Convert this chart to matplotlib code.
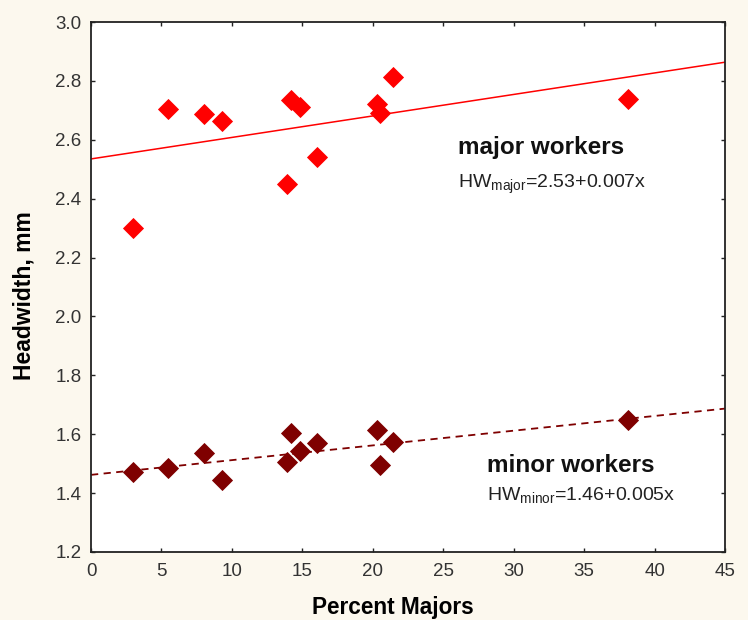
import numpy as np
import matplotlib
matplotlib.use('Agg')
from matplotlib import pyplot as plt

plt.rcParams['font.family'] = ['Liberation Sans', 'DejaVu Sans']
plt.rcParams['mathtext.default'] = 'regular'

# data
percent_majors = [2.96, 5.44, 8.0, 9.33, 13.92, 14.22, 14.85, 16.06, 20.28, 20.51, 21.4, 38.1]
hw_major = [2.30, 2.703, 2.689, 2.664, 2.449, 2.734, 2.712, 2.541, 2.720, 2.692, 2.812, 2.738]
hw_minor = [1.470, 1.484, 1.535, 1.445, 1.504, 1.604, 1.544, 1.570, 1.613, 1.496, 1.573, 1.648]

# regression lines (intercept, slope)
fit_major = [2.535, 0.0073]
fit_minor = [1.462, 0.0050]

xticks = [0, 5, 10, 15, 20, 25, 30, 35, 40, 45]
yticks = [1.2, 1.4, 1.6, 1.8, 2.0, 2.2, 2.4, 2.6, 2.8, 3.0]

bg = '#fcf8ee'
c_major = '#ff0000'
c_minor = '#7f0000'

fig = plt.figure(figsize=(7.48, 6.2), dpi=100, facecolor=bg)
ax = fig.add_axes([0.1217, 0.1097, 0.8476, 0.8548])
ax.set_facecolor('white')

xs = np.array([0, 45])
ax.plot(xs, fit_major[0] + fit_major[1] * xs, color=c_major, lw=1.1, zorder=2)
ax.plot(xs, fit_minor[0] + fit_minor[1] * xs, color=c_minor, lw=1.3,
        dashes=(4, 3), zorder=2)

ax.plot(percent_majors, hw_major, 'D', color=c_major, ms=10, mew=0.6,
        mec=c_major, zorder=3)
ax.plot(percent_majors, hw_minor, 'D', color=c_minor, ms=10, mew=0.6,
        mec=c_minor, zorder=3)

ax.set_xlim(0, 45)
ax.set_ylim(1.2, 3.0)
ax.set_xticks(xticks)
ax.set_yticks(yticks)
ax.set_yticklabels(['%.1f' % v for v in yticks])

for s in ax.spines.values():
    s.set_linewidth(1.3)
    s.set_color('#222222')

ax.tick_params(direction='in', length=3, width=1, colors='#222222',
               top=True, right=True, labelsize=13.5, labelcolor='#333333')
ax.tick_params(axis='x', pad=8)
ax.tick_params(axis='y', pad=7)

ax.set_xlabel('Percent Majors', fontsize=16.3, fontweight='bold')
ax.xaxis.set_label_coords(0.476, -0.083)
ax.set_ylabel('Headwidth, mm', fontsize=16.5, fontweight='bold')
ax.yaxis.set_label_coords(-0.088, 0.483)

ax.text(26.05, 2.575, 'major workers', fontsize=17.5, fontweight='bold',
        va='center', color='#111111')
ax.text(26.05, 2.45, r'HW$_{major}$=2.53+0.007x', fontsize=14, va='center',
        color='#222222')
ax.text(28.1, 1.495, 'minor workers', fontsize=17.5, fontweight='bold',
        va='center', color='#111111')
ax.text(28.1, 1.393, r'HW$_{minor}$=1.46+0.005x', fontsize=14, va='center',
        color='#222222')

fig.savefig('out.png', dpi=100, facecolor=bg)
